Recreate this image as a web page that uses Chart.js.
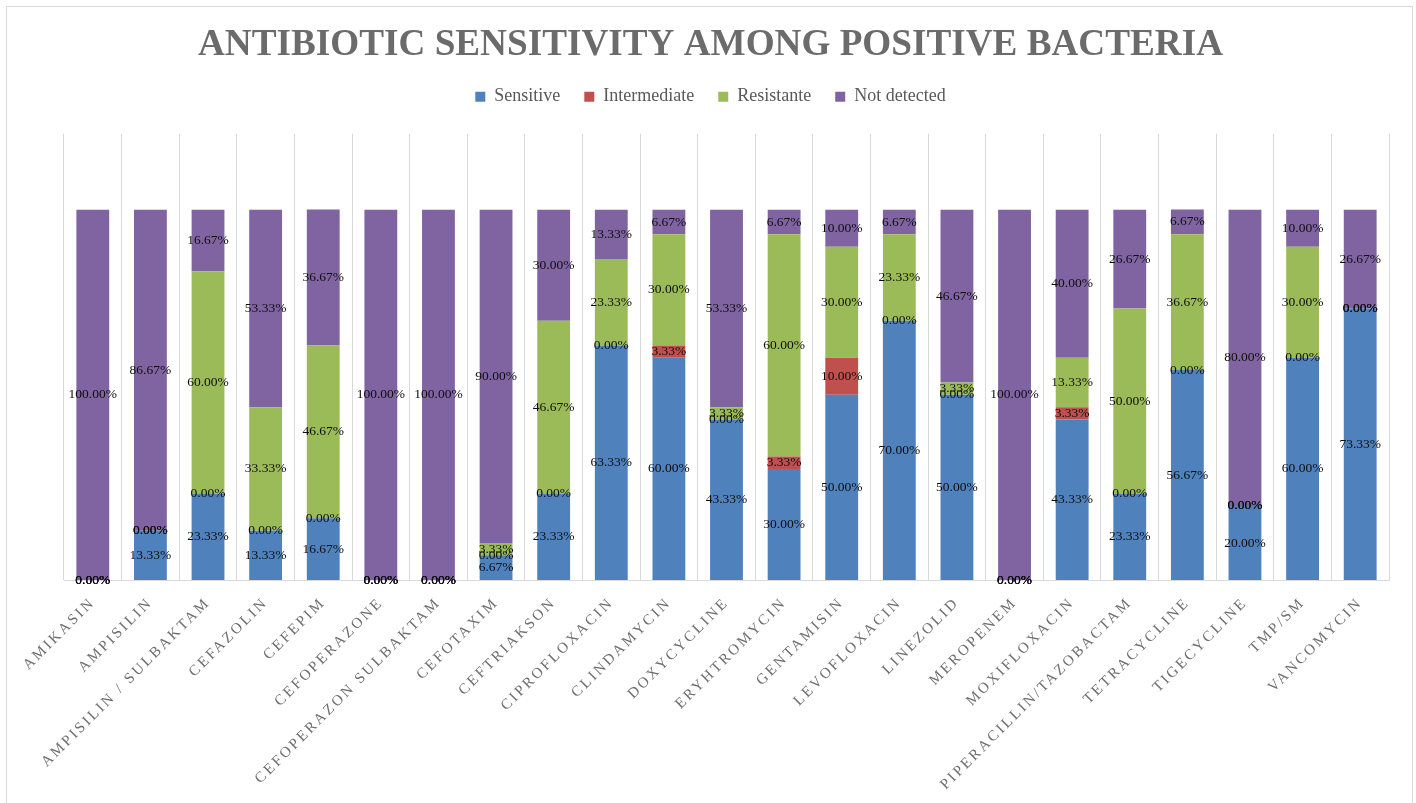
<!DOCTYPE html>
<html>
<head>
<meta charset="utf-8">
<title>Antibiotic sensitivity among positive bacteria</title>
<script src="https://cdn.jsdelivr.net/npm/chart.js@4/dist/chart.umd.min.js"></script>
<style>
  html, body { margin: 0; padding: 0; background: #fff; }
  #wrap { position: relative; width: 1416px; height: 803px; }
</style>
</head>
<body>
<div id="wrap"><canvas id="resultChart"></canvas></div>
<script>
// antibiotics on the x axis
const categories = [
  "AMIKASIN", "AMPISILIN", "AMPISILIN / SULBAKTAM", "CEFAZOLIN", "CEFEPIM",
  "CEFOPERAZONE", "CEFOPERAZON SULBAKTAM", "CEFOTAXIM", "CEFTRIAKSON",
  "CIPROFLOXACIN", "CLINDAMYCIN", "DOXYCYCLINE", "ERYHTROMYCIN", "GENTAMISIN",
  "LEVOFLOXACIN", "LINEZOLID", "MEROPENEM", "MOXIFLOXACIN",
  "PIPERACILLIN/TAZOBACTAM", "TETRACYCLINE", "TIGECYCLINE", "TMP/SM", "VANCOMYCIN"
];

// percentages per result
const sensitive    = [0, 13.33, 23.33, 13.33, 16.67, 0, 0, 6.67, 23.33, 63.33, 60, 43.33, 30, 50, 70, 50, 0, 43.33, 23.33, 56.67, 20, 60, 73.33];
const intermediate = [0, 0, 0, 0, 0, 0, 0, 0, 0, 0, 3.33, 0, 3.33, 10, 0, 0, 0, 3.33, 0, 0, 0, 0, 0];
const resistante   = [0, 0, 60, 33.33, 46.67, 0, 0, 3.33, 46.67, 23.33, 30, 3.33, 60, 30, 23.33, 3.33, 0, 13.33, 50, 36.67, 0, 30, 0];
const notDetected  = [100, 86.67, 16.67, 53.33, 36.67, 100, 100, 90, 30, 13.33, 6.67, 53.33, 6.67, 10, 6.67, 46.67, 100, 40, 26.67, 6.67, 80, 10, 26.67];

const seriesNames = ["Sensitive", "Intermediate", "Resistante", "Not detected"];

document.addEventListener("DOMContentLoaded", () => {
  const canvas = document.getElementById("resultChart");
  const serif = "'Liberation Serif', 'DejaVu Serif', serif";

  // light frame round the whole chart
  const framePlugin = {
    id: "frame",
    beforeDraw(chart) {
      const ctx = chart.ctx;
      ctx.save();
      ctx.strokeStyle = "#d9d9d9";
      ctx.lineWidth = 1;
      ctx.strokeRect(6.5, 6.5, 1406, 830);
      ctx.restore();
    },
  };

  // extra room under the legend, and wider tracking on the category labels
  const spacingPlugin = {
    id: "spacing",
    beforeLayout(chart) {
      const legend = chart.legend;
      if (legend && !legend._extraFit) {
        const fit = legend.fit;
        legend.fit = function () {
          fit.call(this);
          this.height += 18;
        };
        legend._extraFit = true;
      }
    },
    beforeDraw(chart) {
      const sx = chart.scales.x;
      if (sx && !sx._tracked) {
        const drawLabels = sx.drawLabels;
        sx.drawLabels = function (area) {
          const c = this.ctx;
          c.save();
          c.letterSpacing = "2.5px";
          drawLabels.call(this, area);
          c.restore();
        };
        sx._tracked = true;
      }
    },
  };

  // value label in the middle of every segment, zeros included
  const valueLabels = {
    id: "valueLabels",
    afterDatasetsDraw(chart) {
      const ctx = chart.ctx;
      ctx.save();
      ctx.font = "13.5px " + serif;
      ctx.fillStyle = "#0d0d0d";
      ctx.textAlign = "center";
      ctx.textBaseline = "middle";
      chart.data.datasets.forEach((ds, i) => {
        const meta = chart.getDatasetMeta(i);
        meta.data.forEach((bar, j) => {
          const p = bar.getCenterPoint();
          ctx.fillText(ds.data[j].toFixed(2) + "%", p.x, p.y);
        });
      });
      ctx.restore();
    },
  };

  new Chart(canvas, {
    type: "bar",
    data: {
      labels: categories,
      datasets: [
        { label: seriesNames[0], data: sensitive, backgroundColor: "#4f81bd" },
        { label: seriesNames[1], data: intermediate, backgroundColor: "#c0504d" },
        { label: seriesNames[2], data: resistante, backgroundColor: "#9bbb59" },
        { label: seriesNames[3], data: notDetected, backgroundColor: "#8064a2" },
      ],
    },
    options: {
      responsive: true,
      maintainAspectRatio: false,
      animation: false,
      datasets: {
        bar: { barPercentage: 0.57, categoryPercentage: 1, borderWidth: 0 },
      },
      layout: { padding: { left: 32, right: 27, top: 0, bottom: 0 } },
      plugins: {
        title: {
          display: true,
          text: "ANTIBIOTIC SENSITIVITY AMONG POSITIVE BACTERIA",
          color: "#6b6b6b",
          font: { family: serif, size: 37.2, weight: "bold", lineHeight: 1 },
          padding: { top: 26.5, bottom: 0 },
        },
        legend: {
          position: "top",
          labels: {
            color: "#595959",
            font: { family: serif, size: 18 },
            boxWidth: 10,
            boxHeight: 10,
            padding: 24,
          },
        },
        tooltip: { enabled: false },
      },
      scales: {
        x: {
          stacked: true,
          grid: { color: "#d9d9d9", drawTicks: false, offset: true },
          border: { color: "#d9d9d9" },
          ticks: {
            autoSkip: false,
            minRotation: 45,
            maxRotation: 45,
            padding: 14,
            color: "#6e6e6e",
            font: { family: serif, size: 15 },
          },
          afterFit(scale) {
            scale.height = 223;
          },
        },
        y: {
          stacked: true,
          min: 0,
          max: 120.5,
          grid: { display: false, drawTicks: false },
          border: { display: false },
          ticks: { display: false },
          afterFit(scale) {
            scale.width = 32;
          },
        },
      },
    },
    plugins: [framePlugin, spacingPlugin, valueLabels],
  });
});
</script>
</body>
</html>
